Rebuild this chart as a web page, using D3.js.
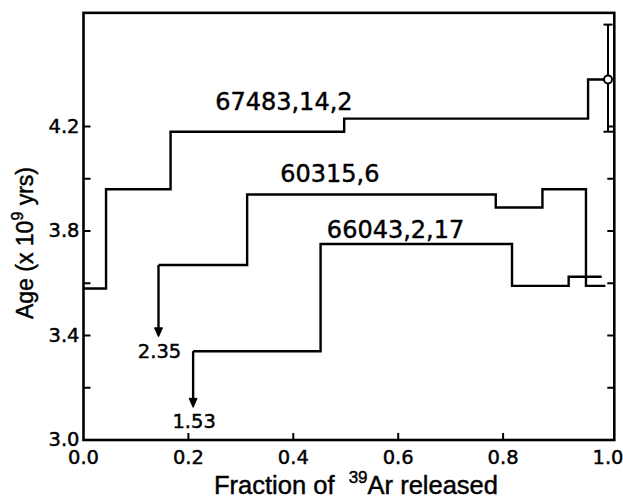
<!DOCTYPE html>
<html>
<head>
<meta charset="utf-8">
<script src="https://cdn.jsdelivr.net/npm/d3@7"></script>
<style>
  html, body { margin: 0; padding: 0; background: #fff; }
  svg { display: block; }
  .num { font-family: "DejaVu Sans", sans-serif; fill: #000; stroke: #000; stroke-width: 0.45; }
  .title { font-family: "Liberation Sans", Arial, sans-serif; fill: #000; stroke: #000; stroke-width: 0.45; }
</style>
</head>
<body>
<script>
// ---- data ----
const sampleNames = ["67483,14,2", "60315,6", "66043,2,17"];
// step boundaries (fraction of 39Ar released)
const fractions67483 = [0, 0.043, 0.166, 0.497, 0.962, 1.0];
const ages67483      = [3.58, 3.96, 4.18, 4.23, 4.38];
const fractions60315 = [0, 0.143, 0.312, 0.786, 0.875, 0.958, 0.995];
const ages60315      = [2.35, 3.67, 3.94, 3.89, 3.96, 3.59];
const fractions66043 = [0, 0.209, 0.452, 0.817, 0.925, 0.988];
const ages66043      = [1.53, 3.34, 3.75, 3.59, 3.625];
// error bar on the last step of 67483
const errorBarLow = 4.18, errorBarHigh = 4.59;
// off-scale first steps: value labels and arrow tip (age units)
const offScaleLabels = ["2.35", "1.53"];
const arrowTips = [3.395, 3.125];
// label anchors (data units)
const labelX = [0.251, 0.375, 0.464];
const labelY = [4.263, 3.989, 3.772];
// axis ticks
const xTickValues = [0, 0.2, 0.4, 0.6, 0.8, 1.0];
const xTickLabels = ["0.0", "0.2", "0.4", "0.6", "0.8", "1.0"];
const yTickValues = [3.0, 3.2, 3.4, 3.6, 3.8, 4.0, 4.2];
const yTickLabels = ["3.0", "", "3.4", "", "3.8", "", "4.2"];
const xTitle = "Fraction of\u00A0\u00A0";
const xTitleSup = "39";
const xTitleEnd = "Ar released";

// ---- layout ----
const W = 623, H = 504;
const x = d3.scaleLinear().domain([0, 1]).range([83.5, 608]);
const y = d3.scaleLinear().domain([3.0, 4.2]).range([440, 126.5]);
const xMax = 1.012, yMax = 4.635;

const svg = d3.select("body").append("svg").attr("width", W).attr("height", H);

// frame
svg.append("rect")
  .attr("x", x(0)).attr("y", y(yMax))
  .attr("width", x(xMax) - x(0)).attr("height", y(3.0) - y(yMax))
  .attr("fill", "none").attr("stroke", "#000").attr("stroke-width", 2.6);

// ticks (inward)
const tickLen = 7;
const tg = svg.append("g").attr("stroke", "#000").attr("stroke-width", 2);
xTickValues.filter(v => v > 0 && v < 1).forEach(v => {
  tg.append("line").attr("x1", x(v)).attr("x2", x(v)).attr("y1", y(3.0)).attr("y2", y(3.0) - tickLen);
});
yTickValues.filter(v => v > 3.0).forEach(v => {
  tg.append("line").attr("x1", x(0)).attr("x2", x(0) + tickLen).attr("y1", y(v)).attr("y2", y(v));
  tg.append("line").attr("x1", x(xMax)).attr("x2", x(xMax) - tickLen).attr("y1", y(v)).attr("y2", y(v));
});

// tick labels
svg.selectAll(".xlab").data(xTickValues).enter().append("text")
  .attr("class", "num").attr("x", d => x(d)).attr("y", y(3.0) + 24)
  .attr("text-anchor", "middle").attr("font-size", 19.5)
  .text((d, i) => xTickLabels[i]);
svg.selectAll(".ylab").data(yTickValues).enter().append("text")
  .attr("class", "num").attr("x", x(0) - 4).attr("y", d => y(d) + 6)
  .attr("text-anchor", "end").attr("font-size", 19.5)
  .text((d, i) => yTickLabels[i]);

// step paths
function stepPath(fr, ag, skipFirst) {
  const p = d3.path();
  const start = skipFirst ? 1 : 0;
  p.moveTo(x(fr[start]), y(ag[start]));
  for (let i = start; i < ag.length; i++) {
    if (i > start) p.lineTo(x(fr[i]), y(ag[i]));
    p.lineTo(x(fr[i + 1]), y(ag[i]));
  }
  return p.toString();
}
const series = [
  { fr: fractions67483, ag: ages67483, off: false },
  { fr: fractions60315, ag: ages60315, off: true },
  { fr: fractions66043, ag: ages66043, off: true }
];
series.forEach(s => {
  svg.append("path").attr("d", stepPath(s.fr, s.ag, s.off))
    .attr("fill", "none").attr("stroke", "#000").attr("stroke-width", 2.4)
    .attr("stroke-linejoin", "miter");
});

// arrows for off-scale first steps
series.filter(s => s.off).forEach((s, k) => {
  const xa = x(s.fr[1]);
  const y0 = y(s.ag[1]), y1 = y(arrowTips[k]);
  svg.append("line").attr("x1", xa).attr("x2", xa).attr("y1", y0).attr("y2", y1 - 2)
    .attr("stroke", "#000").attr("stroke-width", 2.4);
  svg.append("path")
    .attr("d", `M${xa - 4},${y1 - 9} L${xa},${y1} L${xa + 4},${y1 - 9} Z`)
    .attr("fill", "#000").attr("stroke", "#000").attr("stroke-width", 1);
  svg.append("text").attr("class", "num")
    .attr("x", xa + 1).attr("y", y1 + 21)
    .attr("text-anchor", "middle").attr("font-size", 19.5)
    .text(offScaleLabels[k]);
});

// error bar + open circle at the end of 67483
const xe = x(1.0);
const eg = svg.append("g").attr("stroke", "#000").attr("stroke-width", 2);
eg.append("line").attr("x1", xe).attr("x2", xe).attr("y1", y(errorBarHigh)).attr("y2", y(errorBarLow));
eg.append("line").attr("x1", xe - 4.5).attr("x2", xe + 4.5).attr("y1", y(errorBarHigh)).attr("y2", y(errorBarHigh));
eg.append("line").attr("x1", xe - 4.5).attr("x2", xe + 6).attr("y1", y(errorBarLow)).attr("y2", y(errorBarLow));
svg.append("circle").attr("cx", xe).attr("cy", y(ages67483[ages67483.length - 1]))
  .attr("r", 4).attr("fill", "#fff").attr("stroke", "#000").attr("stroke-width", 2);

// sample labels
sampleNames.forEach((n, i) => {
  svg.append("text").attr("class", "num")
    .attr("x", x(labelX[i])).attr("y", y(labelY[i]))
    .attr("font-size", 24).text(n);
});

// axis titles
const xt = svg.append("text").attr("class", "title")
  .attr("x", 356).attr("y", 494).attr("text-anchor", "middle").attr("font-size", 25.5);
xt.append("tspan").text(xTitle);
xt.append("tspan").attr("font-size", 17).attr("dy", -11).text(xTitleSup);
xt.append("tspan").attr("dy", 11).text(xTitleEnd);

const yt = svg.append("text").attr("class", "title")
  .attr("transform", `translate(33,243) rotate(-90)`)
  .attr("text-anchor", "middle").attr("font-size", 23);
yt.append("tspan").text("Age (x 10");
yt.append("tspan").attr("font-size", 16).attr("dy", -10).text("9");
yt.append("tspan").attr("dy", 10).text(" yrs)");
</script>
</body>
</html>
